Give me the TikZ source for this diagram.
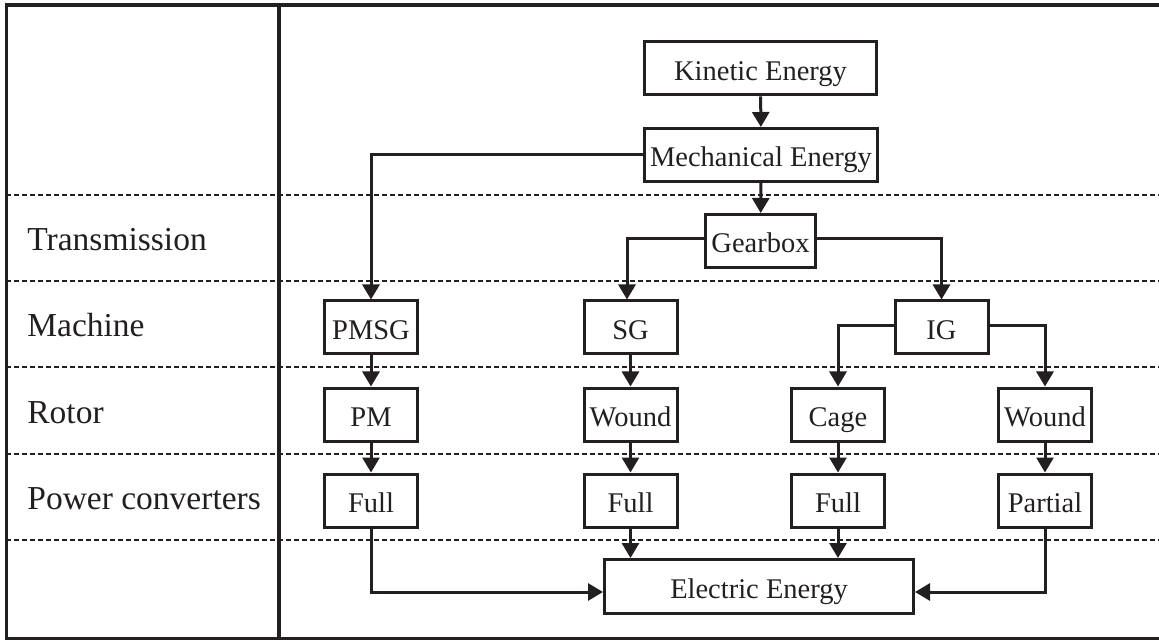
\documentclass[tikz,border=0pt]{standalone}
\usepackage{fontspec}
\setmainfont{Liberation Serif}
\usetikzlibrary{arrows.meta}
\definecolor{ink}{RGB}{35,31,32}
\begin{document}
\begin{tikzpicture}[x=0.5pt,y=-0.5pt,
  box/.style={draw=ink,line width=1.5pt,inner sep=0pt,text=ink,
    font=\fontsize{14.25pt}{16pt}\selectfont,minimum height=26.5pt,
    text height=12pt,text depth=0pt},
  sbox/.style={box,minimum width=46.5pt},
  lab/.style={anchor=base west,inner sep=0pt,text=ink,font=\fontsize{16.75pt}{19pt}\selectfont},
  conn/.style={draw=ink,line width=1.5pt,-{Triangle[length=7.5pt,width=8.5pt]}},
  sep/.style={draw=ink,line width=1pt,dash pattern=on 2.5pt off 1.5pt},
  frame/.style={draw=ink,line width=1.6pt}]
\useasboundingbox (0,0) rectangle (1159,640);
% separators
\foreach \yy in {195,281,367,454,540}
  \draw[sep] (6,\yy) -- (1159,\yy);
\draw[frame] (1160,5) -- (6.5,5) -- (6.5,638.5) -- (1160,638.5);
\draw[frame] (279,5) -- (279,638.5);
% row labels
\node[lab] (ltr) at (27,251) {Transmission};
\node[lab] (lma) at (27,337) {Machine};
\node[lab] (lro) at (27,423) {Rotor};
\node[lab] (lpc) at (27,509) {Power converters};
% boxes
\node[box,minimum width=116pt] (kin) at (760.5,68.5) {Kinetic Energy};
\node[box,minimum width=116.5pt] (mech) at (761,155) {Mechanical Energy};
\node[box,minimum width=55pt] (gear) at (760.5,241) {Gearbox};
\node[sbox] (pmsg) at (371,327.5) {PMSG};
\node[sbox] (sg) at (630.5,327.5) {SG};
\node[sbox] (ig) at (941.5,327.5) {IG};
\node[sbox] (pm) at (371,414.5) {PM};
\node[sbox] (wound1) at (630.5,414.5) {Wound};
\node[sbox] (cage) at (838,414.5) {Cage};
\node[sbox] (wound2) at (1045,414.5) {Wound};
\node[sbox] (full1) at (371,500.5) {Full};
\node[sbox] (full2) at (630.5,500.5) {Full};
\node[sbox] (full3) at (838,500.5) {Full};
\node[sbox] (part) at (1045,500.5) {Partial};
\node[box,minimum width=154.5pt,minimum height=27pt] (elec) at (759,586.5) {Electric Energy};
% connectors
\draw[conn] (kin) -- (mech);
\draw[conn] (mech.west) -| (pmsg.north);
\draw[conn] (mech) -- (gear);
\draw[conn] ([yshift=1pt]gear.west) -| ([xshift=-1.75pt]sg.north);
\draw[conn] ([yshift=1pt]gear.east) -| (ig.north);
\draw[conn] ([yshift=1pt]ig.west) -| (cage.north);
\draw[conn] ([yshift=1pt]ig.east) -| (wound2.north);
\draw[conn] (pmsg) -- (pm);
\draw[conn] (pm) -- (full1);
\draw[conn] (sg) -- (wound1);
\draw[conn] (wound1) -- (full2);
\draw[conn] (cage) -- (full3);
\draw[conn] (wound2) -- (part);
\draw[conn] (full1.south) |- ([yshift=-2.75pt]elec.west);
\draw[conn] (full2.south) -- (full2.south |- elec.north);
\draw[conn] (full3.south) -- (full3.south |- elec.north);
\draw[conn] (part.south) |- ([yshift=-2.75pt]elec.east);
\end{tikzpicture}
\end{document}
